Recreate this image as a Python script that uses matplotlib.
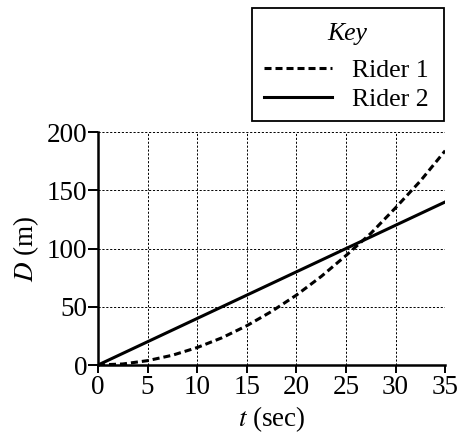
import matplotlib
matplotlib.use("Agg")
import matplotlib.pyplot as plt
from matplotlib.lines import Line2D
from matplotlib.patches import Rectangle

plt.rcParams["font.family"] = ["Liberation Serif", "DejaVu Serif"]
plt.rcParams["mathtext.fontset"] = "stix"

# values
t_r1 = [0, 2.5, 5, 7.5, 10, 12.5, 15, 17.5, 20, 22.5, 25, 27.5, 30, 32.5, 35]
d_r1 = [0, 0.9, 3.75, 8.4, 15, 23.4, 33.75, 46, 60, 76, 94, 113, 135, 158, 184]
t_r2 = [0, 35]
d_r2 = [0, 140]
x_ticks = [0, 5, 10, 15, 20, 25, 30, 35]
y_ticks = [0, 50, 100, 150, 200]
series_names = ["Rider 1", "Rider 2"]

W, H = 458, 433
FS = 19.5
KFS = 18.5
DASH = (0, (2.3, 1.3))
STYLES = [DASH, "-"]

fig = plt.figure(figsize=(W / 100, H / 100), dpi=100)
ax = fig.add_axes([0.214, 0.157, 0.758, 0.538])

ax.plot(t_r1, d_r1, color="black", lw=2.2, ls=STYLES[0], zorder=3)
ax.plot(t_r2, d_r2, color="black", lw=2.2, ls=STYLES[1], zorder=3)

ax.set_xlim(0, 35)
ax.set_ylim(0, 200)
ax.set_xticks(x_ticks)
ax.set_yticks(y_ticks)
ax.grid(True, color="black", lw=0.7, ls=(0, (2.2, 1.8)))
ax.set_axisbelow(True)

for s in ("top", "right"):
    ax.spines[s].set_visible(False)
for s in ("left", "bottom"):
    ax.spines[s].set_linewidth(1.8)

ax.tick_params(direction="out", width=1.4, labelsize=FS)
ax.tick_params(axis="y", length=7, pad=0.5)
ax.tick_params(axis="x", length=6, pad=1)
ax.set_xlabel(r"$t$ (sec)", fontsize=FS, labelpad=3)
ax.set_ylabel(r"$D$ (m)", fontsize=FS, labelpad=4)

# key box, drawn by hand in pixel positions (figure coords)
fx = lambda px: px / W
fy = lambda py: 1 - py / H
fig.patches.append(Rectangle((fx(252), fy(121)), fx(444) - fx(252), fy(8) - fy(121),
                             transform=fig.transFigure, fill=False, ec="black", lw=1.3))
fig.text(fx(347), fy(40), "Key", style="italic", fontsize=KFS, ha="center", va="baseline")
for name, ls, yl, yb in zip(series_names, STYLES, [68, 97], [77, 106]):
    fig.lines.append(Line2D([fx(264), fx(332)], [fy(yl), fy(yl)], transform=fig.transFigure,
                            color="black", lw=2.2, ls=ls))
    fig.text(fx(352), fy(yb), name, fontsize=KFS, ha="left", va="baseline")

fig.savefig("out.png", dpi=100, facecolor="white")
